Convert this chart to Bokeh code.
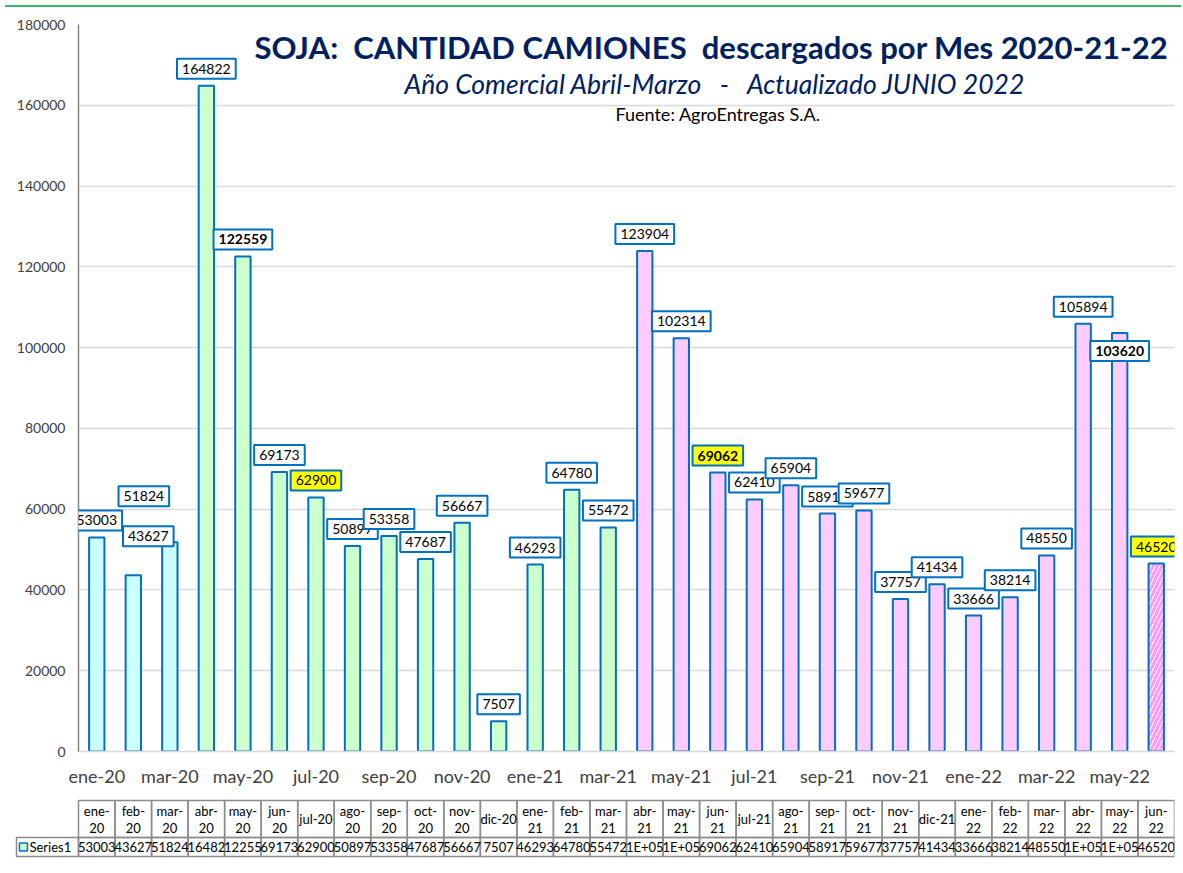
import re
from bokeh.plotting import figure
from bokeh.models import Range1d, FixedTicker, Label, BasicTickFormatter, Div, ColumnDataSource
from bokeh.layouts import column
from bokeh.core.properties import value
from bokeh.embed import file_html
from bokeh.resources import INLINE

# ---------------- data ----------------
months = ["ene-20", "feb-20", "mar-20", "abr-20", "may-20", "jun-20", "jul-20", "ago-20",
          "sep-20", "oct-20", "nov-20", "dic-20", "ene-21", "feb-21", "mar-21", "abr-21",
          "may-21", "jun-21", "jul-21", "ago-21", "sep-21", "oct-21", "nov-21", "dic-21",
          "ene-22", "feb-22", "mar-22", "abr-22", "may-22", "jun-22"]
camiones = [53003, 43627, 51824, 164822, 122559, 69173, 62900, 50897, 53358, 47687,
            56667, 7507, 46293, 64780, 55472, 123904, 102314, 69062, 62410, 65904,
            58917, 59677, 37757, 41434, 33666, 38214, 48550, 105894, 103620, 46520]
table_text = ["53003", "43627", "51824", "16482", "12255", "69173", "62900", "50897",
              "53358", "47687", "56667", "7507", "46293", "64780", "55472", "1E+05",
              "1E+05", "69062", "62410", "65904", "58917", "59677", "37757", "41434",
              "33666", "38214", "48550", "1E+05", "1E+05", "46520"]
series_name = "Series1"
y_ticks = [0, 20000, 40000, 60000, 80000, 100000, 120000, 140000, 160000, 180000]

title_text = "SOJA:  CANTIDAD CAMIONES  descargados por Mes 2020-21-22"
subtitle_text = "Año Comercial Abril-Marzo   -   Actualizado JUNIO 2022"
source_text = "Fuente: AgroEntregas S.A."


def keep_spaces(s):
    # SVG collapses runs of spaces; keep the visual gap with no-break spaces
    return re.sub(r" {2,}", lambda m: "\u00a0" * (len(m.group()) - 1) + " ", s)


# ---------------- styles ----------------
FONT = "Lato"
BLUE = "#0070C0"
NAVY = "#002060"
CYAN = "#CCFFFF"
GREEN = "#CCFFCC"
PINK = "#FFCCFF"
GRID = "#D9D9D9"
TXT = "#404040"
CELL = "#8C8C8C"
W = 1176

n = len(months)
idx = list(range(n))
fills = [CYAN] * 3 + [GREEN] * 12 + [PINK] * 15
bold_labels = {4, 17, 28}
yellow_labels = {6, 17, 29}
label_nudge = {1: (15, 22), 2: (-26, 29), 28: (0, -35)}

# ---------------- main chart ----------------
p1 = figure(width=W, height=784, output_backend="svg", toolbar_location=None,
            x_range=Range1d(-0.5, n - 0.5), y_range=Range1d(0, 180000),
            min_border_left=78, min_border_right=2, min_border_top=12, min_border_bottom=45)
p1.frame_align = False
p1.outline_line_color = None
p1.background_fill_color = "white"
p1.border_fill_color = "white"

p1.xgrid.visible = False
p1.ygrid.ticker = FixedTicker(ticks=y_ticks)
p1.ygrid.grid_line_color = GRID
p1.ygrid.grid_line_width = 1.3

p1.yaxis.ticker = FixedTicker(ticks=y_ticks)
p1.yaxis.formatter = BasicTickFormatter(use_scientific=False)
p1.yaxis.major_label_text_font = FONT
p1.yaxis.major_label_text_font_size = "14px"
p1.yaxis.major_label_text_color = TXT
p1.yaxis.major_label_standoff = 7
p1.yaxis.axis_line_color = "#868686"
p1.yaxis.axis_line_width = 1.5
p1.yaxis.major_tick_line_color = None
p1.yaxis.minor_tick_line_color = None

even = idx[::2]
p1.xaxis.ticker = FixedTicker(ticks=even)
p1.xaxis.major_label_overrides = {i: months[i] for i in even}
p1.xaxis.major_label_text_font = FONT
p1.xaxis.major_label_text_font_size = "18px"
p1.xaxis.major_label_text_color = TXT
p1.xaxis.major_label_standoff = 7
p1.xaxis.axis_line_color = GRID
p1.xaxis.axis_line_width = 1.5
p1.xaxis.major_tick_line_color = None
p1.xaxis.minor_tick_line_color = None

solid = ColumnDataSource(dict(x=idx[:-1], top=camiones[:-1], fill=fills[:n - 1]))
p1.vbar(x="x", top="top", width=0.42, fill_color="fill", line_color=BLUE,
        line_width=2, source=solid)
p1.vbar(x=[idx[-1]], top=[camiones[-1]], width=0.42, fill_color="white",
        hatch_pattern="/", hatch_color="#FF99FF", hatch_weight=3, hatch_scale=9,
        line_color=BLUE, line_width=2)

for i, v in enumerate(camiones):
    dx, dy = label_nudge.get(i, (0, 0))
    p1.add_layout(Label(
        x=i, y=v, x_offset=dx, y_offset=17 + dy, text=str(v),
        text_align="center", text_baseline="middle",
        text_font=FONT, text_font_size="14px", text_color="black",
        text_font_style="bold" if i in bold_labels else "normal",
        background_fill_color="#FFFF00" if i in yellow_labels else "white",
        border_line_color=BLUE, border_line_width=2, padding=5))

p1.add_layout(Label(x=4.318, y=174550, text=keep_spaces(title_text), text_align="left",
                    text_baseline="middle", text_font=FONT, text_font_size="31px",
                    text_font_style="bold", text_color=NAVY))
p1.add_layout(Label(x=8.423, y=165390, text=keep_spaces(subtitle_text), text_align="left",
                    text_baseline="middle", text_font=FONT, text_font_size="26.5px",
                    text_font_style="italic", text_color=NAVY))
p1.add_layout(Label(x=14.199, y=157960, text=source_text, text_align="left",
                    text_baseline="middle", text_font=FONT, text_font_size="18px",
                    text_color="black"))

# ---------------- data table ----------------
p2 = figure(width=W, height=68, output_backend="svg", toolbar_location=None,
            x_range=Range1d(-2.635, n - 0.5), y_range=Range1d(68, 0),
            x_axis_location=None, y_axis_location=None,
            min_border_left=0, min_border_right=2, min_border_top=0, min_border_bottom=0)
p2.frame_align = False
p2.outline_line_color = None
p2.grid.visible = False

HEAD_TOP, ROW_DIV, ROW_BOT = 4, 41, 60
p2.quad(left=[i - 0.5 for i in idx], right=[i + 0.5 for i in idx],
        top=[HEAD_TOP] * n, bottom=[ROW_DIV] * n,
        fill_color=None, line_color=CELL, line_width=1.5)
p2.quad(left=[-2.197] + [i - 0.5 for i in idx], right=[-0.5] + [i + 0.5 for i in idx],
        top=[ROW_DIV] * (n + 1), bottom=[ROW_BOT] * (n + 1),
        fill_color=None, line_color=CELL, line_width=1.5)

single = [m for m in months if m[:3] in ("jul", "dic")]
two_x = [i for i, m in enumerate(months) if m not in single]
one_x = [i for i, m in enumerate(months) if m in single]
p2.text(x=two_x, y=[14] * len(two_x), text=[months[i][:4] for i in two_x],
        text_align="center", text_baseline="middle", text_font=value(FONT),
        text_font_size="13px", text_color="black")
p2.text(x=two_x, y=[31] * len(two_x), text=[months[i][4:] for i in two_x],
        text_align="center", text_baseline="middle", text_font=value(FONT),
        text_font_size="13px", text_color="black")
p2.text(x=one_x, y=[22.5] * len(one_x), text=[months[i] for i in one_x],
        text_align="center", text_baseline="middle", text_font=value(FONT),
        text_font_size="13px", text_color="black")
p2.text(x=idx, y=[50.5] * n, text=table_text,
        text_align="center", text_baseline="middle", text_font=value(FONT),
        text_font_size="13px", text_color="black")
p2.rect(x=[-2.006], y=[50.5], width=8, height=8, width_units="screen",
        height_units="screen", fill_color=GREEN, line_color=BLUE, line_width=1.5)
p2.text(x=[-1.842], y=[50.5], text=[series_name], text_align="left",
        text_baseline="middle", text_font=value(FONT), text_font_size="13px",
        text_color="black")

top_line = Div(text="", width=W, height=2, styles={"background-color": "#3DB46D"})

layout = column(top_line, p1, p2, spacing=0)
open("out.html", "w").write(file_html(layout, INLINE))
